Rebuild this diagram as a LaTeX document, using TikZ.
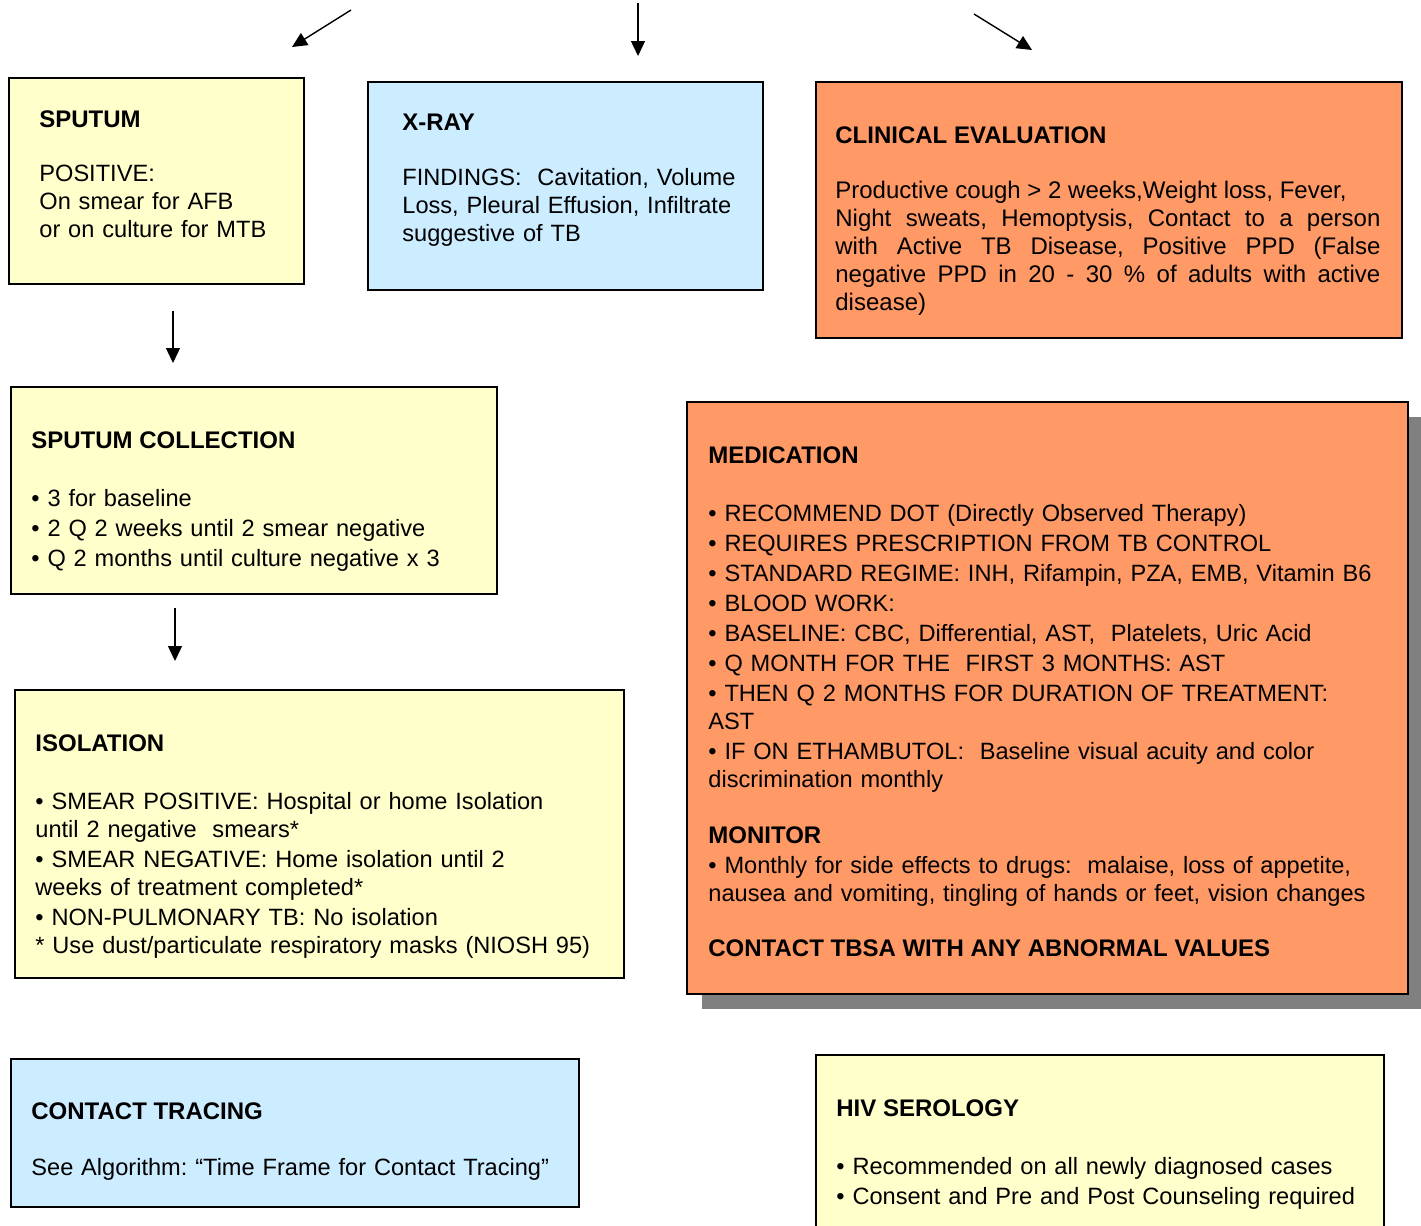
\documentclass[tikz,border=0pt]{standalone}
\usepackage{fontspec}
\setmainfont{Liberation Sans}
\usetikzlibrary{arrows.meta}
\definecolor{ylw}{HTML}{FFFFCC}
\definecolor{blu}{HTML}{CCECFF}
\definecolor{org}{HTML}{FF9966}
\definecolor{shd}{HTML}{808080}
\begin{document}
\frenchspacing
\begin{tikzpicture}[x=0.5pt,y=-0.5pt,
  box/.style={draw=black,line width=1pt,anchor=north west,inner sep=0pt},
  shadowbox/.style={fill=shd,anchor=north west,inner sep=0pt},
  txt/.style={anchor=base west,inner sep=0pt,text width=#1,font=\fontsize{11.8}{14}\selectfont},
  txt/.default=350pt,
  ttl/.style={anchor=base west,inner sep=0pt,font=\fontsize{12}{14}\selectfont\bfseries},
  arr/.style={line width=0.7pt,-{Triangle[length=7.5pt,width=7pt]}}]
\useasboundingbox (0,0) rectangle (1421,1226);

% boxes
\node[box,fill=ylw,minimum width=147.5pt,minimum height=103pt] (sputum) at (8,77) {};
\node[box,fill=blu,minimum width=197.5pt,minimum height=104pt] (xray) at (367,81) {};
\node[box,fill=org,minimum width=293pt,minimum height=128pt] (clin) at (815,81) {};
\node[box,fill=ylw,minimum width=243pt,minimum height=103.5pt] (coll) at (10,386) {};
\node[box,fill=ylw,minimum width=304.5pt,minimum height=144pt] (iso) at (14,689) {};
\node[shadowbox,minimum width=360.5pt,minimum height=296pt] (medshadow) at (702,417) {};
\node[box,fill=org,minimum width=360.5pt,minimum height=296pt] (med) at (686,401) {};
\node[box,fill=blu,minimum width=284pt,minimum height=74pt] (contact) at (10,1058) {};
\node[box,fill=ylw,minimum width=284pt,minimum height=93pt] (hiv) at (815,1054) {};

% texts
\node[ttl] (sputumT) at (39,127) {SPUTUM};
\node[txt] (sputumB) at (39,181.5) {POSITIVE:\\ On smear for AFB\\ or on culture for MTB};

\node[ttl] (xrayT) at (402,130.5) {X-RAY};
\node[txt] (xrayB) at (402,185.5) {FINDINGS:\ \ Cavitation, Volume\\ Loss, Pleural Effusion, Infiltrate\\ suggestive of TB};

\node[ttl] (clinT) at (835,143.5) {CLINICAL EVALUATION};
\node[txt=272.5pt,align=justify,font=\fontsize{12}{14}\selectfont] (clinB) at (835,198.5) {Productive cough > 2 weeks,Weight loss, Fever,\newline Night sweats, Hemoptysis, Contact to a person\linebreak with Active TB Disease, Positive PPD (False\linebreak negative PPD in 20 - 30 \% of adults with active\linebreak disease)};

\node[ttl] (collT) at (31,448.5) {SPUTUM COLLECTION};
\node[txt] (collB) at (31,506.5) {• 3 for baseline\\[1pt] • 2 Q 2 weeks until 2 smear negative\\[1pt] • Q 2 months until culture negative x 3};

\node[ttl] (isoT) at (35,751.5) {ISOLATION};
\node[txt] (isoB) at (35,809.5) {• SMEAR POSITIVE: Hospital or home Isolation\\ until 2 negative\ \ smears*\\[1pt] • SMEAR NEGATIVE: Home isolation until 2\\ weeks of treatment completed*\\[1pt] • NON-PULMONARY TB: No isolation\\{}* Use dust/particulate respiratory masks (NIOSH 95)};

\node[ttl] (medT) at (708,463.5) {MEDICATION};
\node[txt] (medB) at (708,521.5) {• RECOMMEND DOT (Directly Observed Therapy)\\[1pt]
• REQUIRES PRESCRIPTION FROM TB CONTROL\\[1pt]
• STANDARD REGIME: INH, Rifampin, PZA, EMB, Vitamin B6\\[1pt]
• BLOOD WORK:\\[1pt]
• BASELINE: CBC, Differential, AST,\ \ Platelets, Uric Acid\\[1pt]
• Q MONTH FOR THE\ \ FIRST 3 MONTHS: AST\\[1pt]
• THEN Q 2 MONTHS FOR DURATION OF TREATMENT:\\ AST\\[1pt]
• IF ON ETHAMBUTOL:\ \ Baseline visual acuity and color\\ discrimination monthly};
\node[ttl] (monT) at (708,843.5) {MONITOR};
\node[txt] (monB) at (708,873.5) {• Monthly for side effects to drugs:\ \ malaise, loss of appetite,\\ nausea and vomiting, tingling of hands or feet, vision changes};
\node[ttl] (tbsaT) at (708,956.5) {CONTACT TBSA WITH ANY ABNORMAL VALUES};

\node[ttl] (contactT) at (31,1119.5) {CONTACT TRACING};
\node[txt] (contactB) at (31,1175.5) {See Algorithm: “Time Frame for Contact Tracing”};

\node[ttl] (hivT) at (836,1116.5) {HIV SEROLOGY};
\node[txt] (hivB) at (836,1174.5) {• Recommended on all newly diagnosed cases\\[1pt] • Consent and Pre and Post Counseling required};

% arrows
\coordinate (a1s) at (351,10);   \coordinate (a1e) at (292,47);
\coordinate (a2s) at (638,3);    \coordinate (a2e) at (638,56);
\coordinate (a3s) at (974,14);   \coordinate (a3e) at (1032,50);
\coordinate (a4s) at (173,311);  \coordinate (a4e) at (173,363);
\coordinate (a5s) at (175,608);  \coordinate (a5e) at (175,661);
\draw[arr] (a1s) -- (a1e);
\draw[arr] (a2s) -- (a2e);
\draw[arr] (a3s) -- (a3e);
\draw[arr] (a4s) -- (a4e);
\draw[arr] (a5s) -- (a5e);
\end{tikzpicture}
\end{document}
